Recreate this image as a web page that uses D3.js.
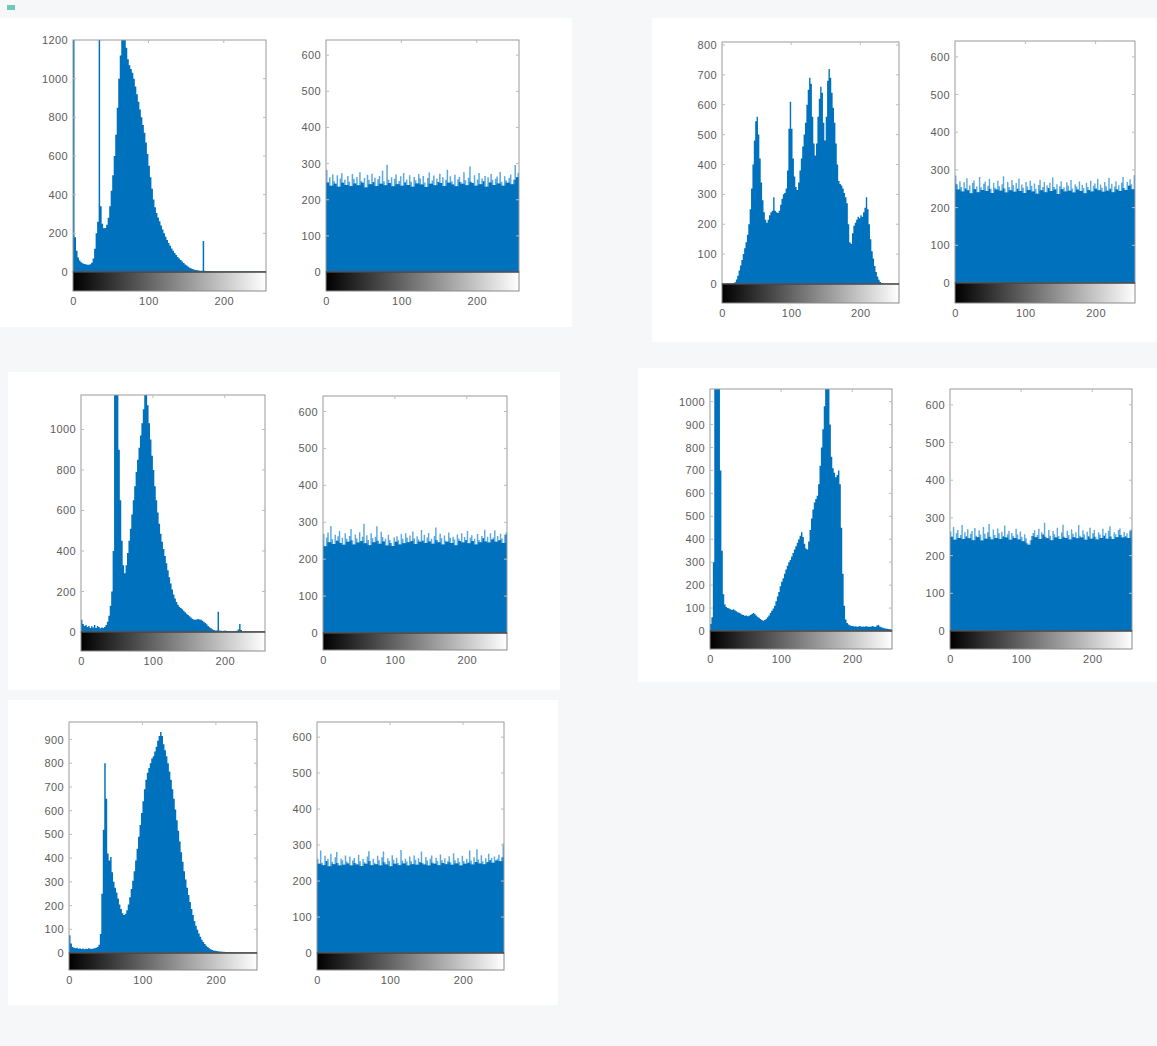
<!DOCTYPE html>
<html>
<head>
<meta charset="utf-8">
<script src="https://cdn.jsdelivr.net/npm/d3@7"></script>
<style>
  html, body { margin: 0; padding: 0; background: #f6f7f9; }
  svg { display: block; }
  text { font-family: "Liberation Sans", Arial, Helvetica, sans-serif; }
</style>
</head>
<body>
<svg id="chart" width="1157" height="1046"></svg>
<script>
// Gray-level histograms, 128 bins of two levels each (bin i covers levels 2i..2i+1).
// Original images
const histA = [1250,180,110,75,60,50,45,42,40,38,38,40,48,70,120,200,260,1250,340,250,
  226,228,245,280,340,420,500,600,710,850,1000,1120,1250,1250,1230,1160,1100,1070,1050,1030,
  1000,960,920,880,840,800,760,720,670,610,550,490,430,375,335,305,282,262,240,220,
  200,182,166,150,136,122,110,98,88,78,70,62,54,46,39,33,27,22,18,15,
  12,10,9,8,7,7,160,6,5,5,4,4,4,3,3,3,3,3,3,3,
  3,3,2,2,2,2,2,2,2,2,2,2,2,2,2,2,2,2,2,2,
  2,2,2,2,2,2,2,2];
const histB = [0,0,0,0,0,0,0,0,2,6,15,28,45,62,80,100,120,140,165,200,
  250,320,400,480,545,560,500,420,340,280,240,215,205,215,230,240,245,290,245,240,
  238,245,265,285,300,305,320,380,520,610,520,420,360,325,315,340,380,420,460,500,
  540,600,650,690,670,560,470,430,470,560,620,660,640,540,480,560,680,720,690,640,
  590,540,470,400,345,335,330,320,305,290,270,200,140,135,170,195,205,215,225,220,
  230,225,240,255,290,250,200,150,110,85,60,40,25,14,7,3,1,0,0,0,
  0,0,0,0,0,0,0,0];
const histC = [60,40,30,35,25,30,20,28,22,35,20,30,25,18,22,20,25,35,50,80,
  130,200,400,1200,1200,1200,900,650,450,330,290,330,390,450,510,580,650,720,790,850,
  910,970,1030,1100,1200,1200,1120,1030,950,870,800,720,650,590,535,485,445,410,375,340,
  305,270,240,210,185,165,148,135,125,118,112,105,98,90,84,78,72,66,62,60,
  62,64,62,60,56,50,44,38,30,24,18,14,10,8,7,100,8,6,5,6,
  8,5,4,5,4,4,3,4,6,12,40,10,3,3,2,3,2,2,3,2,
  2,2,3,2,2,2,2,2];
const histD = [30,60,300,1100,1100,1100,1100,700,350,160,115,105,100,98,95,92,95,90,86,82,
  80,76,72,70,66,68,64,66,70,74,78,75,68,62,58,52,48,45,48,52,
  60,68,78,88,98,110,130,150,170,195,215,230,250,268,285,300,310,325,340,355,
  370,385,400,415,430,410,380,360,355,390,440,490,530,560,575,590,640,720,800,880,
  980,1100,1100,1080,900,760,710,690,670,680,700,640,450,250,110,50,35,28,25,22,
  22,20,21,19,20,22,18,20,19,21,20,18,19,20,22,18,19,24,26,20,
  16,14,12,11,10,9,8,8];
const histE = [75,40,25,22,20,22,18,20,17,19,16,18,17,20,18,17,19,20,22,25,
  35,80,250,520,800,650,420,390,405,340,300,275,255,230,205,185,168,160,165,180,
  205,235,270,305,345,390,440,490,540,590,640,690,730,760,780,800,820,830,850,870,
  895,915,932,915,880,855,830,800,765,730,690,650,605,560,515,470,425,385,345,310,
  275,245,215,185,160,135,115,98,82,68,56,46,38,31,25,20,16,13,11,9,
  8,7,6,6,5,5,4,4,4,3,3,3,3,3,2,2,2,2,2,2,
  2,2,2,2,1,1,1,1];

// Equalized images
const eqA = [282,248,262,239,270,251,244,268,236,259,273,247,255,241,266,250,238,271,258,245,
  263,240,276,252,247,260,234,269,255,243,272,249,261,238,257,266,244,280,251,240,
  297,255,246,262,237,258,270,243,252,265,239,274,248,256,241,268,250,236,263,254,
  245,271,259,242,266,248,235,260,275,244,253,267,240,258,249,272,246,262,238,255,
  283,247,265,251,242,269,237,257,263,249,244,276,254,240,261,292,250,246,268,239,
  256,274,243,259,251,266,236,262,248,271,255,241,258,264,245,277,250,239,265,253,
  247,260,270,243,255,296,262,274];
const eqB = [285,262,248,270,255,243,267,251,278,246,259,238,265,272,249,256,241,281,254,247,
  263,269,244,258,276,250,239,266,253,248,271,257,245,262,283,251,240,268,255,246,
  273,259,242,265,250,277,244,261,253,239,268,256,247,271,258,243,264,250,237,260,
  274,246,255,268,241,259,252,266,244,280,255,248,262,236,257,270,249,254,243,267,
  258,245,273,251,240,262,256,248,269,244,260,252,238,266,255,247,271,243,258,264,
  250,276,246,261,253,242,268,257,245,279,250,263,241,256,270,248,259,244,266,281,
  252,247,268,258,275,262,249,286];
const eqC = [268,235,259,272,246,290,254,241,266,250,262,276,244,258,239,270,255,247,263,282,
  251,240,267,256,245,273,249,261,296,243,265,252,238,270,257,246,261,289,250,242,
  274,260,248,255,237,266,252,244,236,259,247,262,251,240,268,255,243,270,258,246,
  264,249,275,256,241,262,253,247,279,250,266,244,259,271,248,255,242,263,286,252,
  246,269,257,240,264,250,247,272,258,244,261,253,238,267,255,249,270,245,260,252,
  276,243,258,265,249,255,240,268,252,246,263,257,280,248,261,245,270,253,259,278,
  247,263,251,269,256,244,266,272];
const eqD = [264,250,276,242,259,268,247,255,281,244,262,251,270,246,258,265,241,273,253,249,
  267,256,240,276,258,245,262,284,250,243,269,255,247,272,259,244,263,251,280,248,
  257,266,242,260,253,247,271,256,243,264,250,238,257,246,233,229,241,252,260,267,
  249,255,271,244,262,256,287,250,246,268,253,241,265,257,248,274,252,244,261,282,
  250,247,266,255,243,270,258,249,262,246,281,253,248,267,256,242,263,251,274,245,
  259,268,250,243,262,256,247,271,253,260,245,266,278,251,244,262,257,249,268,272,
  255,248,263,251,259,247,266,270];
const eqE = [262,248,285,251,244,270,256,262,241,276,253,247,266,281,250,243,262,258,245,271,
  254,249,268,243,257,264,250,246,273,255,242,261,252,248,268,283,256,244,262,251,
  247,270,258,243,266,282,252,246,263,256,241,272,259,248,265,250,244,286,257,249,
  262,254,243,268,255,247,271,259,245,263,252,282,250,246,267,257,243,262,271,251,
  248,265,256,244,274,258,250,263,247,255,269,252,245,277,258,249,264,253,243,270,
  256,248,262,251,285,257,246,266,253,288,260,249,272,255,247,263,252,276,258,264,
  251,268,257,262,273,255,266,304];

// Axis limits and tick labels
const xTicks = [0, 100, 200];
const yLimits = { histA: 1200, histB: 810, histC: 1170, histD: 1055, histE: 974, eq: 642 };
const yTicksA = [0, 200, 400, 600, 800, 1000, 1200];
const yTicksB = [0, 100, 200, 300, 400, 500, 600, 700, 800];
const yTicksC = [0, 200, 400, 600, 800, 1000];
const yTicksD = [0, 100, 200, 300, 400, 500, 600, 700, 800, 900, 1000];
const yTicksE = [0, 100, 200, 300, 400, 500, 600, 700, 800, 900];
const yTicksEq = [0, 100, 200, 300, 400, 500, 600];

// Axes placement on the page
const panels = [
  { data: histA, ymax: yLimits.histA, ticks: yTicksA,  flat: false, left: 73,  top: 40,  right: 266,  zero: 272, bottom: 291 },
  { data: eqA,   ymax: yLimits.eq,    ticks: yTicksEq, flat: true,  left: 326, top: 40,  right: 519,  zero: 272, bottom: 291 },
  { data: histB, ymax: yLimits.histB, ticks: yTicksB,  flat: false, left: 722, top: 42,  right: 899,  zero: 284, bottom: 303 },
  { data: eqB,   ymax: yLimits.eq,    ticks: yTicksEq, flat: true,  left: 955, top: 41,  right: 1135, zero: 283, bottom: 303 },
  { data: histC, ymax: yLimits.histC, ticks: yTicksC,  flat: false, left: 81,  top: 395, right: 265,  zero: 632, bottom: 651 },
  { data: eqC,   ymax: yLimits.eq,    ticks: yTicksEq, flat: true,  left: 323, top: 396, right: 507,  zero: 633, bottom: 650 },
  { data: histD, ymax: yLimits.histD, ticks: yTicksD,  flat: false, left: 710, top: 389, right: 892,  zero: 631, bottom: 649 },
  { data: eqD,   ymax: yLimits.eq,    ticks: yTicksEq, flat: true,  left: 950, top: 389, right: 1132, zero: 631, bottom: 649 },
  { data: histE, ymax: yLimits.histE, ticks: yTicksE,  flat: false, left: 69,  top: 722, right: 257,  zero: 953, bottom: 970 },
  { data: eqE,   ymax: yLimits.eq,    ticks: yTicksEq, flat: true,  left: 317, top: 722, right: 504,  zero: 953, bottom: 970 }
];

// White figure blocks on the page background
const blocks = [
  { x: 0,   y: 18,  w: 572, h: 309 },
  { x: 652, y: 18,  w: 505, h: 324 },
  { x: 8,   y: 372, w: 552, h: 318 },
  { x: 638, y: 368, w: 519, h: 314 },
  { x: 8,   y: 700, w: 550, h: 305 }
];

const BLUE = "#0072bd";
const BLUE_LIGHT = "#5aa9e0";
const LABEL = "#5c5c5c";
const svg = d3.select("#chart");

svg.selectAll("rect.block").data(blocks).join("rect")
  .attr("class", "block")
  .attr("x", d => d.x).attr("y", d => d.y)
  .attr("width", d => d.w).attr("height", d => d.h)
  .attr("fill", "#ffffff");

svg.append("rect").attr("x", 7).attr("y", 5).attr("width", 8).attr("height", 5)
  .attr("fill", "#39b39a").attr("opacity", 0.7);

const defs = svg.append("defs");
const grad = defs.append("linearGradient").attr("id", "grayRamp")
  .attr("x1", "0%").attr("x2", "100%").attr("y1", "0%").attr("y2", "0%");
grad.append("stop").attr("offset", "0%").attr("stop-color", "#000");
grad.append("stop").attr("offset", "100%").attr("stop-color", "#fff");

panels.forEach((p, k) => {
  const x = d3.scaleLinear().domain([0, 256]).range([p.left, p.right]);
  const y = d3.scaleLinear().domain([0, p.ymax]).range([p.zero, p.top]);
  const g = svg.append("g");
  const cap = v => Math.min(v, p.ymax * 1.02);

  defs.append("clipPath").attr("id", "clip" + k)
    .append("rect").attr("x", p.left).attr("y", p.top)
    .attr("width", p.right - p.left).attr("height", p.zero - p.top);

  // histogram as a stepped area: one step per bin, closed at the last bin edge
  const steps = p.data.map((v, i) => ({ lv: 2 * i, v }));
  steps.push({ lv: 256, v: p.data[p.data.length - 1] });
  const area = d3.area().curve(d3.curveStepAfter)
    .x(d => x(d.lv)).y0(p.zero);
  const plot = g.append("g").attr("clip-path", `url(#clip${k})`);

  if (p.flat) {
    // thin single-bin spikes render paler than the solid body beneath them
    plot.append("path").datum(steps)
      .attr("d", area.y1(d => y(cap(d.v))))
      .attr("fill", BLUE_LIGHT);
    const body = steps.map((d, i) => ({
      lv: d.lv,
      v: Math.min(d.v, (steps[i - 1] || d).v, (steps[i + 1] || d).v)
    }));
    plot.append("path").datum(body)
      .attr("d", area.y1(d => y(cap(d.v))))
      .attr("fill", BLUE);
  } else {
    plot.append("path").datum(steps)
      .attr("d", area.y1(d => y(cap(d.v))))
      .attr("fill", BLUE);
  }

  // plot frame
  g.append("rect").attr("x", p.left).attr("y", p.top)
    .attr("width", p.right - p.left).attr("height", p.zero - p.top)
    .attr("fill", "none").attr("stroke", "#9a9a9a").attr("stroke-width", 1);

  // y axis labels, tick marks drawn inside the box
  const yAxis = d3.axisLeft(y).tickValues(p.ticks).tickFormat(d3.format("d"))
    .tickSize(0).tickPadding(5);
  const ya = g.append("g").attr("transform", `translate(${p.left},0)`).call(yAxis);
  ya.select(".domain").remove();
  ya.selectAll("text").attr("fill", LABEL).attr("font-size", 11).attr("letter-spacing", 0.4);
  const inner = p.ticks.filter(t => t > 0 && t < p.ymax);
  g.selectAll("line.ytick").data(inner).join("line")
    .attr("class", "ytick")
    .attr("x1", p.left).attr("x2", p.left + 3).attr("y1", d => y(d)).attr("y2", d => y(d))
    .attr("stroke", "#bbb");
  g.selectAll("line.ytick2").data(inner).join("line")
    .attr("class", "ytick2")
    .attr("x1", p.right - 3).attr("x2", p.right).attr("y1", d => y(d)).attr("y2", d => y(d))
    .attr("stroke", "#bbb");
  g.selectAll("line.xtick").data(xTicks.filter(t => t > 0)).join("line")
    .attr("class", "xtick")
    .attr("x1", d => x(d)).attr("x2", d => x(d)).attr("y1", p.top).attr("y2", p.top + 3)
    .attr("stroke", "#bbb");

  // gray-level colour bar
  g.append("rect").attr("x", p.left).attr("y", p.zero)
    .attr("width", p.right - p.left).attr("height", p.bottom - p.zero)
    .attr("fill", "url(#grayRamp)").attr("stroke", "#8a8a8a").attr("stroke-width", 1);
  g.append("line").attr("x1", p.left).attr("x2", p.right)
    .attr("y1", p.zero).attr("y2", p.zero).attr("stroke", "#222").attr("stroke-width", 1);

  // x axis under the colour bar
  const xAxis = d3.axisBottom(x).tickValues(xTicks).tickSize(0).tickPadding(6);
  const xa = g.append("g").attr("transform", `translate(0,${p.bottom})`).call(xAxis);
  xa.select(".domain").remove();
  xa.selectAll("text").attr("fill", LABEL).attr("font-size", 11).attr("letter-spacing", 0.4);
});
</script>
</body>
</html>
